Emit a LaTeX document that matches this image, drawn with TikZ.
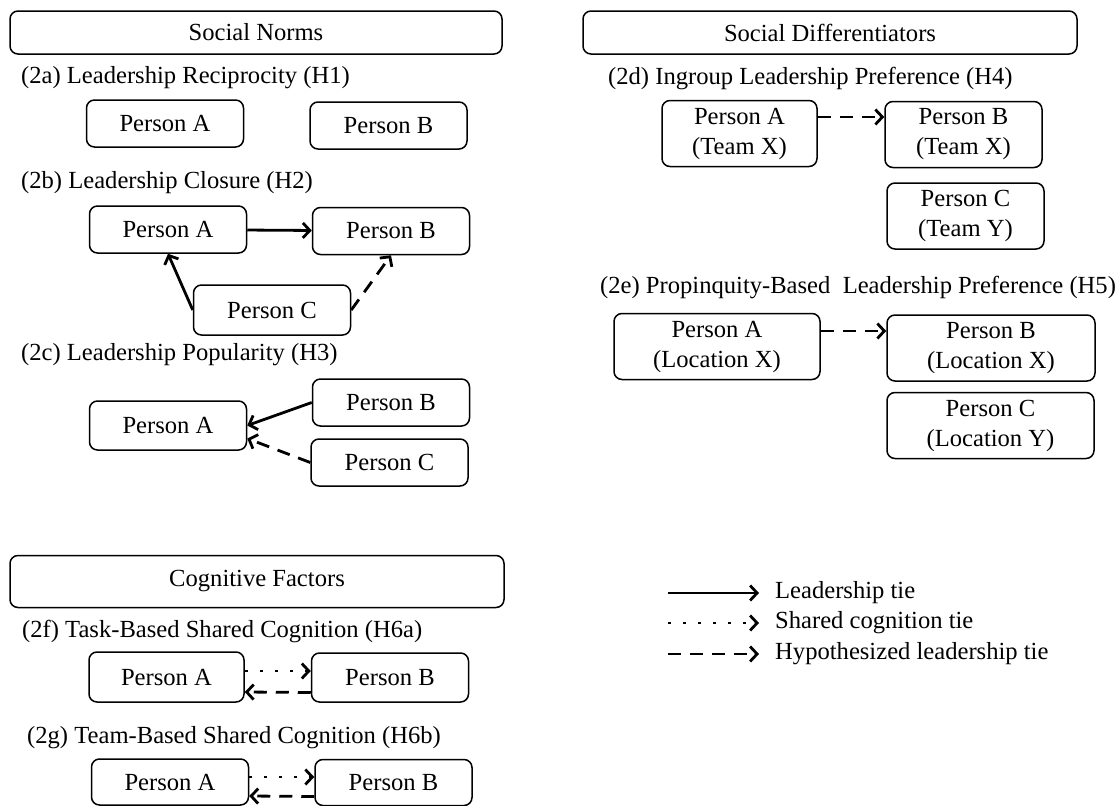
\documentclass[tikz,border=0pt]{standalone}
\usepackage{fontspec}
\setmainfont{Liberation Serif}
\usetikzlibrary{arrows.meta}

\begin{document}
\begin{tikzpicture}[x=1pt,y=-1pt,every node/.style={font=\fontsize{24.6}{30}\selectfont},
  head/.style={draw,rounded corners=8pt,line width=1.5pt,inner sep=0pt},
  person/.style={draw,rounded corners=8pt,line width=1.5pt,minimum width=157pt,minimum height=47pt,inner sep=0pt,align=center},
  place/.style={person,minimum height=66pt},
  sublabel/.style={anchor=west,inner sep=0pt},
  legtext/.style={anchor=west,inner sep=0pt},
  lead/.style={line width=2.8pt,-{Straight Barb[length=7pt,width=15pt]}},
  hyp/.style={lead,dash pattern=on 13pt off 9pt},
  cog/.style={lead,dash pattern=on 3pt off 12pt}]
\useasboundingbox (0,0) rectangle (1120,806);

\node[head,minimum width=492pt,minimum height=43pt] (SN) at (256,32.5) {Social Norms};
\node[head,minimum width=494pt,minimum height=43pt] (SD) at (830,32.5) {Social Differentiators};
\node[head,minimum width=494pt,minimum height=52pt] (CF) at (257,581.5) {Cognitive Factors};

\node[sublabel] (L2a) at (21,78) {(2a) Leadership Reciprocity (H1)};
\node[person] (A2a) at (165,123.5) {Person A};
\node[person] (B2a) at (388.5,125.5) {Person B};

\node[sublabel] (L2b) at (21,183) {(2b) Leadership Closure (H2)};
\node[person] (A2b) at (168,229.5) {Person A};
\node[person] (B2b) at (391,231) {Person B};
\node[person,minimum height=50pt] (C2b) at (272,310) {Person C};

\node[sublabel] (L2c) at (21,355) {(2c) Leadership Popularity (H3)};
\node[person,minimum height=49pt] (A2c) at (168,425.5) {Person A};
\node[person] (B2c) at (391,402.5) {Person B};
\node[person] (C2c) at (389.5,462.5) {Person C};

\node[sublabel] (L2d) at (608,78) {(2d) Ingroup Leadership Preference (H4)};
\node[place,minimum width=155pt] (A2d) at (739.5,133.5) {Person A\\(Team X)};
\node[place] (B2d) at (963.5,134.5) {Person B\\(Team X)};
\node[place] (C2d) at (965.5,216) {Person C\\(Team Y)};

\node[sublabel] (L2e) at (600,287) {(2e) Propinquity-Based\ \ Leadership Preference (H5)};
\node[place,minimum width=206pt] (A2e) at (717,346.5) {Person A\\(Location X)};
\node[place,minimum width=208pt] (B2e) at (991,348) {Person B\\(Location X)};
\node[place,minimum width=207pt] (C2e) at (990.5,425.5) {Person C\\(Location Y)};

\node[sublabel] (L2f) at (22,631) {(2f) Task-Based Shared Cognition (H6a)};
\node[person,minimum width=155pt,minimum height=50pt] (A2f) at (166.5,677) {Person A};
\node[person,minimum height=49pt] (B2f) at (390,677.5) {Person B};

\node[sublabel] (L2g) at (27,738) {(2g) Team-Based Shared Cognition (H6b)};
\node[person,minimum height=46pt] (A2g) at (170,782) {Person A};
\node[person,minimum height=46pt] (B2g) at (393.5,782.5) {Person B};

\draw[lead] (A2b) -- (B2b);
\draw[lead] (C2b.west) -- (A2b.south);
\draw[hyp] (C2b.east) -- (B2b.south);

\draw[lead] (B2c.west) -- (A2c.east);
\draw[hyp] (C2c.west) -- ([yshift=-13pt]A2c.east);

\draw[hyp] ([yshift=16.5pt]A2d.east) -- ([yshift=17.5pt]B2d.west);
\draw[hyp] ([yshift=15.5pt]A2e.east) -- ([yshift=17pt]B2e.west);

\draw[cog] ([yshift=6pt]A2f.east) -- ([yshift=6.5pt]B2f.west);
\draw[hyp] ([yshift=-15pt]B2f.west) -- ([yshift=-15pt]A2f.east);
\draw[cog] ([yshift=5pt]A2g.east) -- ([yshift=5.5pt]B2g.west);
\draw[hyp] ([yshift=-14pt]B2g.west) -- ([yshift=-14pt]A2g.east);

\node[legtext] (T1) at (775,593) {Leadership tie};
\node[legtext] (T2) at (775,623) {Shared cognition tie};
\node[legtext] (T3) at (775,654) {Hypothesized leadership tie};
\coordinate (S1) at (668,593);
\coordinate (S2) at (668,623);
\coordinate (S3) at (668,654);
\draw[lead,shorten >=16pt] (S1) -- (T1.west);
\draw[cog,shorten >=16pt] (S2) -- (T2.west);
\draw[hyp,shorten >=16pt] (S3) -- (T3.west);
\end{tikzpicture}
\end{document}
